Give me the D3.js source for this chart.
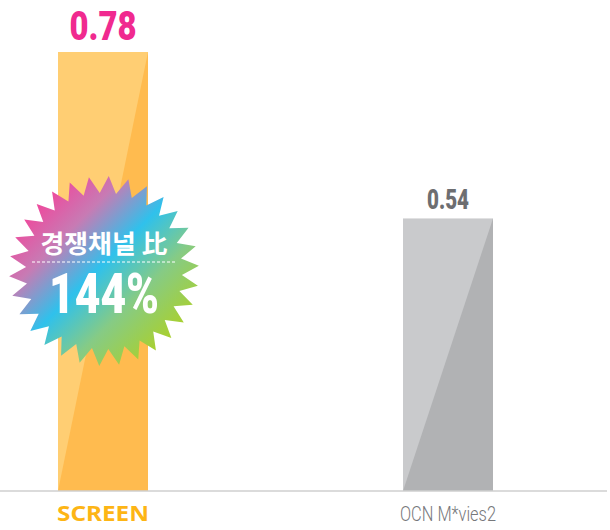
<!DOCTYPE html>
<html>
<head>
<meta charset="utf-8">
<script src="https://cdnjs.cloudflare.com/ajax/libs/d3/7.8.5/d3.min.js"></script>
<style>
html, body { margin: 0; padding: 0; background: #fff; }
svg { display: block; }
text { font-family: "Roboto", sans-serif; }
</style>
</head>
<body>
<svg id="chart"></svg>
<script>
// data
var categories = ["SCREEN", "OCN M*vies2"];
var values = [0.78, 0.54];
var valueLabels = ["0.78", "0.54"];
var badgeTitle = "경쟁채널 比";
var badgeValue = "144%";

// colours
var lightColors = ["#ffce73", "#c9cacc"];
var darkColors = ["#ffbb4f", "#b1b2b4"];
var valueColors = ["#f02a8f", "#6d6e71"];
var labelColors = ["#fdb515", "#77787b"];

var width = 610, height = 530;
var baseY = 491;

var svg = d3.select("#chart").attr("width", width).attr("height", height);

// the axis in the picture does not start at 0
var x = d3.scaleBand().domain(categories).range([58, 493]).paddingInner(0.7391).paddingOuter(0);
var y = d3.scaleLinear().domain([0.147, 0.78]).range([baseY, 52]);

var bars = svg.selectAll(".bar").data(categories).enter().append("g").attr("class", "bar");

bars.append("rect")
  .attr("x", function(d) { return x(d); })
  .attr("y", function(d, i) { return y(values[i]); })
  .attr("width", x.bandwidth())
  .attr("height", function(d, i) { return baseY - y(values[i]); })
  .style("fill", function(d, i) { return lightColors[i]; });

// darker triangle on each bar
bars.append("path")
  .attr("d", function(d, i) {
    var x0 = x(d), x1 = x0 + x.bandwidth();
    return d3.line()([[x1, y(values[i])], [x0, baseY], [x1, baseY]]) + "Z";
  })
  .style("fill", function(d, i) { return darkColors[i]; });

bars.append("text")
  .attr("x", function(d) { return x(d) + x.bandwidth() / 2; })
  .attr("y", function(d, i) { return y(values[i]) - (i == 0 ? 12 : 9); })
  .attr("text-anchor", "middle")
  .attr("textLength", function(d, i) { return i == 0 ? 67 : 42; })
  .attr("lengthAdjust", "spacingAndGlyphs")
  .style("font-weight", "900")
  .style("font-size", function(d, i) { return i == 0 ? "41px" : "28px"; })
  .style("fill", function(d, i) { return valueColors[i]; })
  .text(function(d, i) { return valueLabels[i]; });

svg.append("line")
  .attr("x1", 0).attr("x2", 607)
  .attr("y1", baseY).attr("y2", baseY)
  .style("stroke", "#cfcfcf").style("stroke-width", 1.5);

bars.append("text")
  .attr("x", function(d) { return x(d) + x.bandwidth() / 2; })
  .attr("y", 521)
  .attr("text-anchor", "middle")
  .attr("textLength", function(d, i) { return i == 0 ? 92 : 96; })
  .attr("lengthAdjust", "spacingAndGlyphs")
  .style("font-family", function(d, i) { return i == 0 ? "'Noto Sans', sans-serif" : null; })
  .style("font-weight", function(d, i) { return i == 0 ? "bold" : "300"; })
  .style("font-size", function(d, i) { return i == 0 ? "22px" : "20px"; })
  .style("fill", function(d, i) { return labelColors[i]; })
  .text(function(d) { return d; });

// badge
var defs = svg.append("defs");
var grad = defs.append("linearGradient").attr("id", "badgeGrad")
  .attr("x1", "15%").attr("y1", "15%").attr("x2", "85%").attr("y2", "85%");
grad.append("stop").attr("offset", "0%").style("stop-color", "#ee4a9d");
grad.append("stop").attr("offset", "22%").style("stop-color", "#c77bb4");
grad.append("stop").attr("offset", "47%").style("stop-color", "#2fc1ec");
grad.append("stop").attr("offset", "72%").style("stop-color", "#86cb85");
grad.append("stop").attr("offset", "100%").style("stop-color", "#a9d02f");

var cx = 104, cy = 271, spikes = 30;
var starPoints = d3.range(spikes * 2).map(function(i) {
  var a = i * Math.PI / spikes - Math.PI / 2 + 0.05;
  var r = i % 2 == 0 ? 95 : 78;
  return [r * Math.cos(a), r * Math.sin(a)];
});
var badge = svg.append("g").attr("transform", "translate(" + cx + "," + cy + ")");
badge.append("path").attr("d", d3.line()(starPoints) + "Z").style("fill", "url(#badgeGrad)");

badge.append("text")
  .attr("x", 0).attr("y", -18)
  .attr("text-anchor", "middle")
  .attr("textLength", 127)
  .attr("lengthAdjust", "spacingAndGlyphs")
  .style("font-family", "'Noto Sans CJK KR', sans-serif")
  .style("font-weight", "bold")
  .style("font-size", "25px")
  .style("fill", "#fff")
  .text(badgeTitle);

badge.append("line")
  .attr("x1", -72).attr("x2", 72)
  .attr("y1", -9).attr("y2", -9)
  .style("stroke", "#fff").style("stroke-width", 1)
  .style("stroke-dasharray", "3 2");

badge.append("text")
  .attr("x", 0).attr("y", 42)
  .attr("text-anchor", "middle")
  .attr("textLength", 110)
  .attr("lengthAdjust", "spacingAndGlyphs")
  .style("font-weight", "900")
  .style("font-size", "56px")
  .style("fill", "#fff")
  .text(badgeValue);
</script>
</body>
</html>
